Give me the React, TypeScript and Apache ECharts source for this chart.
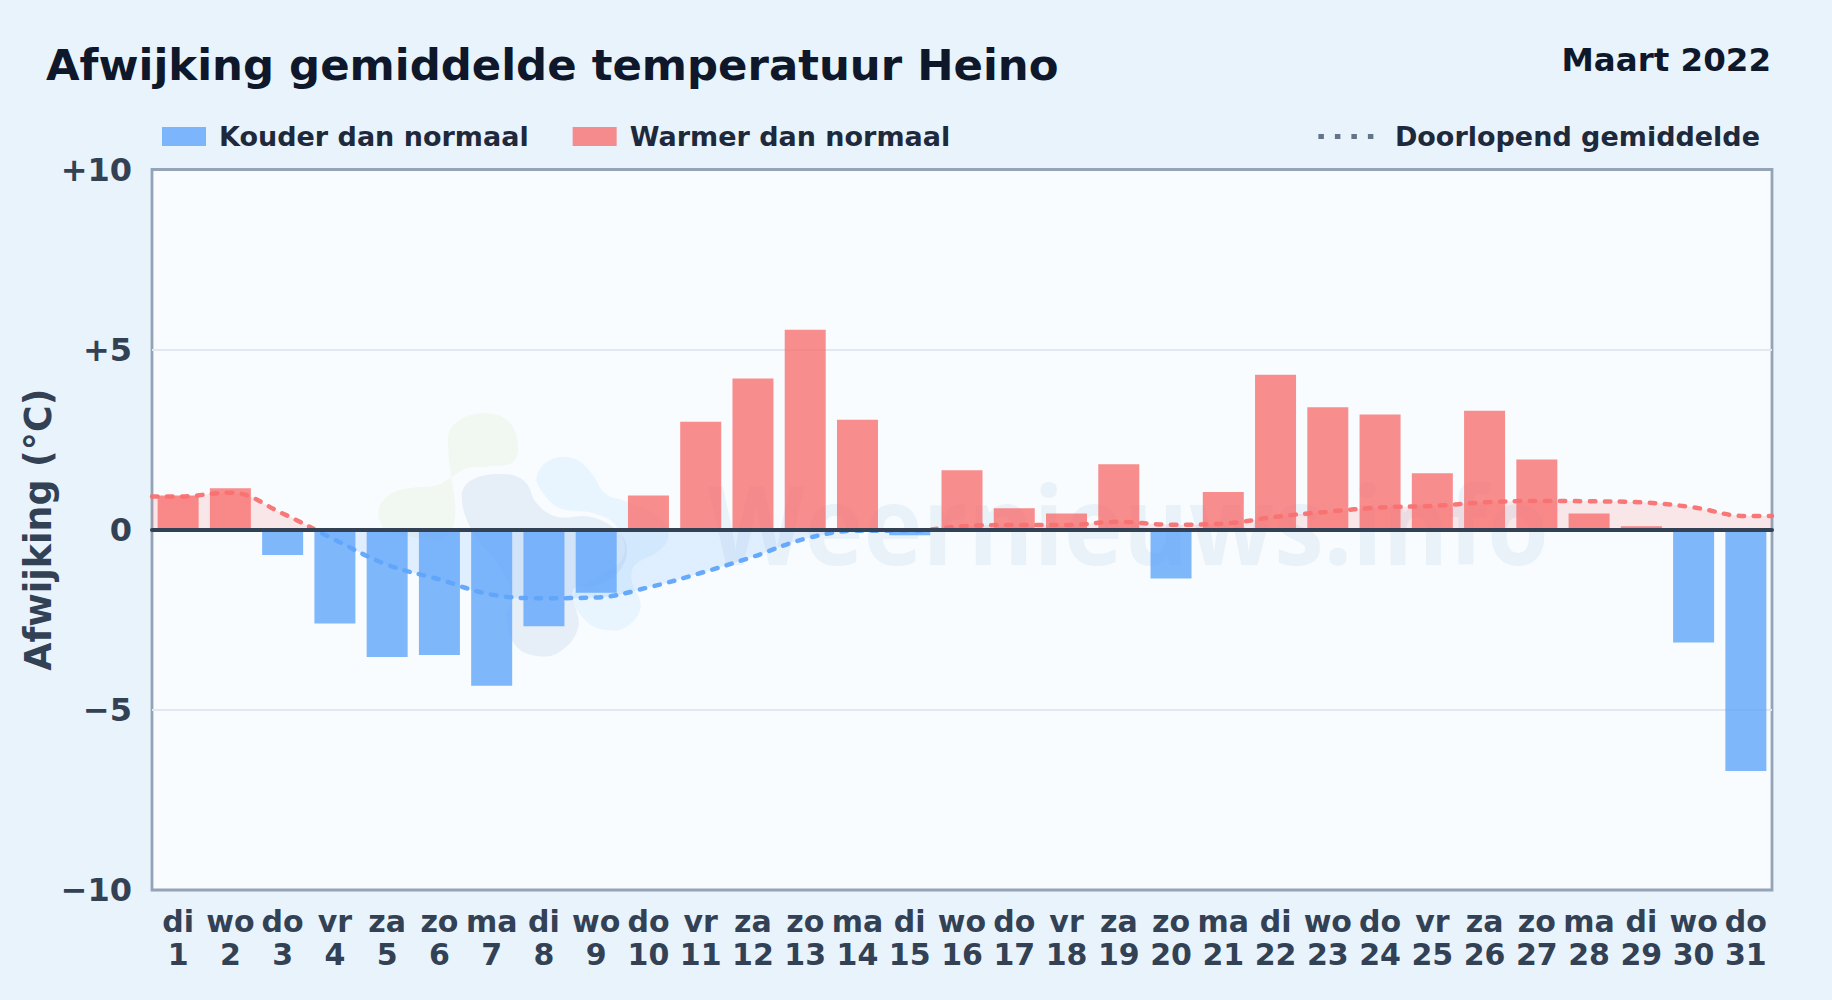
import React, { useEffect, useRef } from "react";
import * as echarts from "echarts";

const weekdays = ["di","wo","do","vr","za","zo","ma","di","wo","do","vr","za","zo","ma","di","wo","do","vr","za","zo","ma","di","wo","do","vr","za","zo","ma","di","wo","do"];
const days = ["1","2","3","4","5","6","7","8","9","10","11","12","13","14","15","16","17","18","19","20","21","22","23","24","25","26","27","28","29","30","31"];
const deviation = [0.95,1.15,-0.7,-2.6,-3.53,-3.48,-4.33,-2.68,-1.75,0.95,3.0,4.2,5.55,3.05,-0.15,1.65,0.6,0.45,1.82,-1.35,1.05,4.3,3.4,3.2,1.57,3.3,1.95,0.45,0.1,-3.13,-6.7];
const runningMean = [0.92,1.03,0.45,-0.28,-0.97,-1.38,-1.8,-1.9,-1.88,-1.6,-1.2,-0.75,-0.25,-0.03,-0.03,0.1,0.13,0.13,0.22,0.14,0.17,0.36,0.5,0.62,0.66,0.76,0.8,0.79,0.76,0.62,0.38];
const yTickLabels: Record<string, string> = { "10": "+10", "5": "+5", "0": "0", "-5": "\u22125", "-10": "\u221210" };

const FONT = "DejaVu Sans";
const BLUE = "rgba(96,165,250,0.8)";
const RED = "rgba(248,113,113,0.8)";

const blob = (pts: number[][]) => pts.map(([x, y]) => [360 + x / 3, 400 + y / 3]);
const greenBlob = blob([[265,105],[300,60],[370,40],[440,60],[472,120],[460,185],[380,200],[320,205],[270,235],[230,255],[130,268],[75,295],[55,340],[70,385],[90,400],[270,400]]);
const navyBlob = blob([[305,290],[335,240],[430,222],[495,245],[530,310],[590,350],[690,350],[770,390],[800,440],[780,510],[710,555],[640,570],[655,680],[600,755],[530,768],[465,735],[440,650],[455,590],[420,500],[340,400]]);
const skyBlob = blob([[530,230],[570,180],[640,175],[695,220],[735,280],[800,305],[880,340],[925,400],[900,450],[825,495],[815,540],[842,620],[800,680],[740,690],[680,665],[640,590],[700,540],[790,470],[770,380],[700,340],[600,325],[550,280]]);

export default function App() {
  const ref = useRef<HTMLDivElement>(null);
  useEffect(() => {
    document.body.style.margin = "0";
    const chart = echarts.init(ref.current!, undefined, { renderer: "svg" });
    const legendText = { fontFamily: FONT, fontWeight: "bold", fontSize: 27, color: "#1e293b" };
    chart.setOption({
      animation: false,
      backgroundColor: "#e8f3fc",
      title: [
        { text: "Afwijking gemiddelde temperatuur Heino", left: 46, top: 43, padding: 0,
          textStyle: { fontFamily: FONT, fontWeight: "bold", fontSize: 43.4, color: "#0f172a" } },
        { text: "Maart 2022", right: 61, top: 43, padding: 0,
          textStyle: { fontFamily: FONT, fontWeight: "bold", fontSize: 32.5, color: "#0f172a" } },
      ],
      legend: [
        { left: 162, top: 123, padding: 0, itemWidth: 44, itemHeight: 19, itemGap: 44, selectedMode: false, icon: "rect",
          textStyle: { ...legendText, padding: [0, 0, 0, 8] }, data: ["Kouder dan normaal", "Warmer dan normaal"] },
        { right: 72, top: 123, padding: 0, itemWidth: 56, itemHeight: 5, selectedMode: false,
          textStyle: { ...legendText, padding: [0, 0, 0, 16] },
          data: [{ name: "Doorlopend gemiddelde",
            icon: "path://M0 0h5.5v5H0z M16.5 0h5.5v5h-5.5z M33 0h5.5v5H33z M49.5 0h5.5v5h-5.5z",
            itemStyle: { color: "#64748b" } }] },
      ],
      grid: { left: 152, top: 169.5, width: 1620, height: 720.5, show: true, z: 0,
        backgroundColor: "#f8fcff", borderColor: "#94a3b8", borderWidth: 2.8 },
      xAxis: [
        { type: "category", data: days.map((d, i) => `${weekdays[i]}\n${d}`), position: "bottom",
          axisLine: { show: false, onZero: false }, axisTick: { show: false }, splitLine: { show: false },
          axisLabel: { interval: 0, margin: 15, fontFamily: FONT, fontWeight: "bold", fontSize: 30, lineHeight: 33, color: "#334155" } },
        { type: "value", min: 0.5, max: 31.5, position: "top", z: 10,
          axisLine: { show: true, onZero: true, lineStyle: { color: "#334155", width: 4 } },
          axisTick: { show: false }, axisLabel: { show: false }, splitLine: { show: false } },
      ],
      yAxis: { type: "value", min: -10, max: 10, interval: 5,
        name: "Afwijking (\u00b0C)", nameLocation: "middle", nameGap: 96, nameMoveOverlap: false,
        nameTextStyle: { fontFamily: FONT, fontWeight: "bold", fontSize: 36.4, color: "#334155" },
        axisLine: { show: false }, axisTick: { show: false },
        splitLine: { showMinLine: false, showMaxLine: false, lineStyle: { color: "#e2e8f0", width: 2 } },
        axisLabel: { margin: 20, fontFamily: FONT, fontWeight: "bold", fontSize: 32, color: "#334155",
          formatter: (v: number) => yTickLabels[String(v)] ?? String(v) } },
      visualMap: { show: false, seriesIndex: 2, dimension: 1,
        pieces: [{ gt: -10, lte: 0, color: "#60a5fa" }, { gt: 0, lte: 10, color: "#f87171" }] },
      series: [
        { name: "Kouder dan normaal", type: "bar", stack: "d", barWidth: 41, xAxisIndex: 0, z: 3,
          itemStyle: { color: BLUE }, data: deviation.map((v) => (v < 0 ? v : null)) },
        { name: "Warmer dan normaal", type: "bar", stack: "d", barWidth: 41, xAxisIndex: 0, z: 3,
          itemStyle: { color: RED }, data: deviation.map((v) => (v >= 0 ? v : null)) },
        { name: "Doorlopend gemiddelde", type: "line", xAxisIndex: 1, smooth: 0.4, showSymbol: false, z: 4,
          lineStyle: { width: 4.5, type: [5.5, 9.5], cap: "round", opacity: 0.95 },
          areaStyle: { origin: 0, opacity: 0.16 },
          data: [[0.5, runningMean[0]], ...runningMean.map((v, i) => [i + 1, v]), [31.5, runningMean[30]]] },
      ],
      graphic: [
        { type: "polygon", z: 1, silent: true, shape: { points: greenBlob, smooth: 0.4 }, style: { fill: "rgba(170,210,90,0.08)" } },
        { type: "polygon", z: 1, silent: true, shape: { points: navyBlob, smooth: 0.4 }, style: { fill: "rgba(30,90,170,0.08)" } },
        { type: "polygon", z: 1, silent: true, shape: { points: skyBlob, smooth: 0.4 }, style: { fill: "rgba(56,170,248,0.08)" } },
        { type: "text", z: 1, silent: true, x: 708, y: 468, scaleX: 0.908,
          style: { text: "Weernieuws.info", fontFamily: "Open Sans", fontWeight: 700, fontSize: 110, lineHeight: 110, fill: "rgba(30,90,170,0.065)" } },
      ],
    });
    return () => chart.dispose();
  }, []);
  return <div ref={ref} style={{ width: 1832, height: 1000 }} />;
}
